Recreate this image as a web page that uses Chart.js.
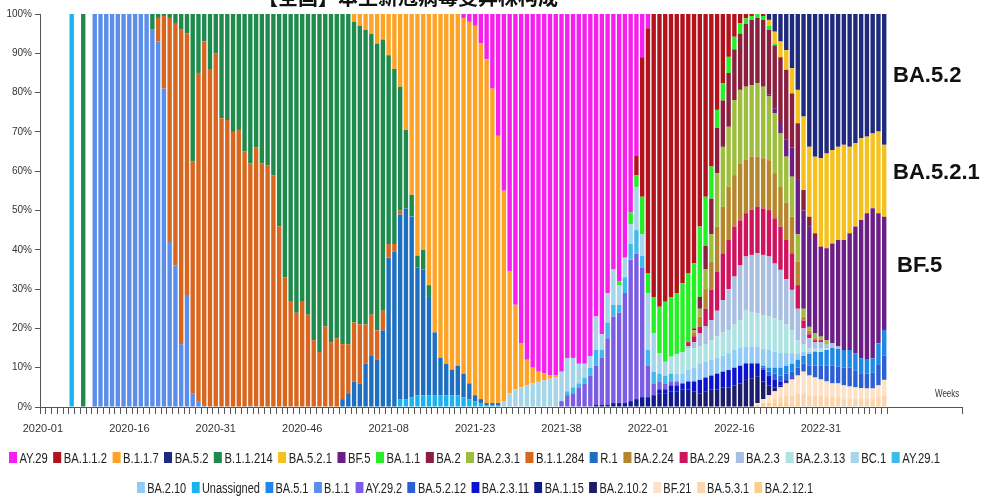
<!DOCTYPE html>
<html>
<head>
<meta charset="utf-8">
<script src="https://cdn.jsdelivr.net/npm/chart.js@4.4.1/dist/chart.umd.min.js"></script>
<style>
  html, body { margin: 0; padding: 0; background: #fff; }
  #wrap { position: relative; width: 986px; height: 501px; overflow: hidden; }
  #c { position: absolute; left: 0; top: 0; }
  #title { position: absolute; left: 258px; top: -13px; font: bold 20px "Noto Sans CJK SC", sans-serif; color: #111; white-space: nowrap; line-height: 20px; }
  .tag { position: absolute; font: bold 22px "Liberation Sans", Arial, sans-serif; color: #111; line-height: 24px; white-space: nowrap; }
  #weeks { position: absolute; left: 935px; top: 388px; font: 10px "Liberation Sans", Arial, sans-serif; color: #333;
           transform: scaleX(0.8); transform-origin: 0 0; }
  .row { position: absolute; height: 15px; display: inline-flex; align-items: center;
         font: 14px "Liberation Sans", Arial, sans-serif; color: #222; white-space: nowrap; transform-origin: 0 0; }
  .item { display: flex; align-items: center; margin-right: 7px; }
  .item:last-child { margin-right: 0; }
  .sw { width: 10px; height: 11px; margin-right: 3px; flex: none; }
</style>
</head>
<body>
<div id="wrap">
  <canvas id="c" width="986" height="501"></canvas>
  <div id="title">【全国】本土新冠病毒变异株构成</div>
  <div class="tag" style="left:893px; top:63px;">BA.5.2</div>
  <div class="tag" style="left:893px; top:160px;">BA.5.2.1</div>
  <div class="tag" style="left:897px; top:253px;">BF.5</div>
  <div id="weeks">Weeks</div>
  <div class="row" id="row1" style="top:450px;"></div>
  <div class="row" id="row2" style="top:480px;"></div>
</div>
<script>
// ISO weeks shown on the category axis (2020 has 53 weeks)
const YEAR_WEEKS = [[2020, 53], [2021, 52], [2022, 52], [2023, 3]];
const weekLabels = [];
YEAR_WEEKS.forEach(([y, n]) => { for (let w = 1; w <= n; w++) weekLabels.push(y + '-' + String(w).padStart(2, '0')); });
const LABEL_EVERY = 15;        // one printed label per 15 weeks
const N_WEEKS = 147;           // weeks with sequencing data (2020-01 .. 2022-42)

// Weekly share (%) per lineage, given as [first week index, values...] runs
const AY_29      = [[73, [1,2,3,7.5,11.5,19,31,45,65.5,74,83.7,88,90,91,91.5,92,92,91,87.5,87.5,89,89,87,77,81.5,71,65,68,62,50.5,36,11,3.6]]];
const BA_1_1_2   = [[103, [5,35.5,62.4,72,74.5,73.2,72,71,68.5,66,63.4,54.1,46.5,38.8,24.4,17.6,10.9,5.8,2.4,1.1,0.5,0,0.5]]];
const B_1_1_7    = [[54, [2,3,4,5,7.5,6.5,10.5,14,18.5,29.5,46,61.5,60,69,81,87.5,89,90.5,89.5,90.5,92,94,90.5,87.5,80,68,53.5,31,21.5,11.3,6.5,4,2.6,1.7,0.8,0.4]]];
const BA_5_2     = [[126, [1.5,4.5,7,9.2,13.8,19.3,26.1,33.8,36.3,36.7,35.5,34.6,33.8,33.3,33.8,32.9,31.6,31.2,30.4,29.9,33.3]]];
const B_1_1_214  = [[7, [100]], [19, [4,1,0.5,1,2.5,4,5,37.5,15,7,14,10,26.5,27,30,29.5,35,38,34,38,38.5,41,54,67,73,76,73,76.5,83,86,79.5,83.5,82.5,84,84,76.5,76,75,71.5,73,69,48,44.5,31.5,20,5.5,3,5,3]]];
const BA_5_2_1   = [[126, [1.5,3,4,5,6.4,8.5,18.7,17.8,19.5,22.5,24.1,23.8,23.7,24.2,22,21.2,20.8,19.5,19,20.8,18.3]]];
const BF_5       = [[126, [0.5,1.3,2.4,4.3,7.4,14,25,25.6,24.3,22.9,23.4,25.4,27.1,28,29.7,32.2,35.2,37.3,38.2,33.1,28.8]]];
const BA_1_1     = [[100, [1,0,3,3,9.5,5,9.2,11.8,15.3,15.2,15.5,17.5,17.5,16.6,17.9,12.5,8.2,4.6,4.4,4.1,3.2,2.6,1.4,1,1,1,1,0.5]]];
const BA_2       = [[113, [0.5,3,6,9,11.5,11.8,13.7,12.9,14.3,16,16.6,16.6,17,16.5,16,17,17.8,13.8,14.2,5.2,2.4,1.2]]];
const BA_2_3_1   = [[113, [0.5,2,5,7,13.6,15.2,15.3,19.1,18.7,18.5,18.2,18.7,18.2,16.2,15.2,13.6,11.7,10.2,7,2,0.9,1.2,0.9,1]]];
const B_1_1_284  = [[20, [6,18.5,57,61.5,80,66.5,59,83.5,92.5,86,90,73.5,73,70,70.5,65,61.5,66,62,61.5,59,46,33,27,24,27,23.5,17,14,20.5,16.5,17.5,14,12.5,15,15,10,10.5,7.5,5,3.5,2,1]]];
const R_1        = [[52, [2,3.5,6.5,6,11,13,12,19.5,38,39.5,47,48.5,46,32.5,32,25,16,9.5,8,6.5,7.5,6,4,1.5,1,0.5,0.5,0.5]]];
const BA_2_24    = [[113, [1,2.6,5,7.2,11.4,11.9,13.5,13.1,14.5,13.7,13.5,12.7,12.8,12.7,11.5,10.1,9.5,9.3,6,1,1,0.5]]];
const BA_2_29    = [[112, [1,1.5,1.7,4.5,7.7,10,11.9,12.5,12.7,11.5,11,11.5,11.9,11.8,11.8,11.5,11,10,9.3,6,2,1,0.5,0.5]]];
const BA_2_3     = [[112, [0.5,1.5,3.3,4.5,5.1,6.5,8.2,10.4,12.2,13.9,13.6,14.5,15.3,15.3,15.3,14,12.8,11.5,10.2,8,4,2.5,1.7,1.5,1,1.2,0.6]]];
const BA_2_3_13  = [[109, [4.3,5,5.5,5.5,5,4.3,4.5,5,5.5,6,5.9,6.5,7.1,9.3,8.8,8.4,8.6,8.5,8.5,8.4,7.3,5.9,3.5,2,1,0.5,1,0.5]]];
const BC_1       = [[80, [1.5,3.5,4.5,5,5.5,6,6.4,6.8,7.2,7.6,7.5,8.5,7.5,5,3.5,3,8.5,4,7.5,9,5,5,5,11,5.5,14.5,9.8,5.2,3.5]]];
const AY_29_1    = [[91, [1,1.5,1,1.5,2,4,2,4,3,2,4,4,6,3,4,3,2,2,2]]];
const BA_2_10    = [[110, [2,2.5,3,3.5,4.2,4,4,4,4,4.3,4.5,4.5,4.3,4.3,4.3,4.3,4.5,4,3.7,3.2,2.7,1.5,1,0.5,0.3]]];
const UNASSIGNED = [[5, [100]], [62, [2,2,2.5,3,3,3,3,3,3,3,3,2.5,2,1.5,1,0.5,0.5,0.5]]];
const BA_5_1     = [[125, [0.5,1,1.5,2,2,2,2,2,3,3.5,3.5,4,4.5,4.5,4.5,4.5,4.5,3.8,3.5,3.7,5.5,6.5]]];
const B_1_1      = [[9, [100,100,100,100,100,100,100,100,100,100,96,93,81,42,36,16,28.5,3.5,1.5,0.5,0,0,0,0,0,0,0,0.5]]];
const AY_29_2    = [[90, [1.5,3,3.5,5,6,8,10,12,17,22,23,28,36,37,33,8,3,2,1.5,1,1]]];
const BA_5_2_12  = [[125, [0.5,1,1.5,1.5,1.7,1.5,2,2,2.5,3,3.5,4,4.5,4.3,4.5,4.8,4.2,3.8,3.8,4,5.2,6.2]]];
const BA_2_3_11  = [[107, [1,1,1.5,1.5,1.5,2,2.5,3.4,3.5,3.5,4,4,4.4,4.5,4.5,4.2,3.8,3.4,3,2.5,2,1,0.5,0.3]]];
const BA_1_15    = [[96, [0.5,0.5,0.5,1,1,1,1.5,2,2.5,2.5,3,3.5,3.5,4,4,4.5,4.5]]];
const BA_2_10_2  = [[113, [4,3.5,4,4.5,4.5,5,5,5.5,6,6.9,7.3,6.7,4.5,2.5,1,0.5,0.3,0.2]]];
const BF_21      = [[124, [0.5,1,2,2,2.5,3,4,4.5,5.5,5,4.5,4,4,3.5,3.5,3.5,3.2,3,2.8,2.7,2.7,3,3.9]]];
const BA_5_3_1   = [[127, [1,1.5,2,2.5,3,3.5,3,3,3,2.5,2.5,2.5,2,2,2,2,2,2,2.5,3]]];
const BA_2_12_1  = [[124, [0.5,1,1,1,1,1,0.5,0.5]]];

// lineage name, data runs, colour — in legend order
const LINEAGES = [
  ['AY.29', AY_29, '#f61ff0'], ['BA.1.1.2', BA_1_1_2, '#b3121c'], ['B.1.1.7', B_1_1_7, '#ffa327'],
  ['BA.5.2', BA_5_2, '#1f2a7c'], ['B.1.1.214', B_1_1_214, '#1e8b4d'], ['BA.5.2.1', BA_5_2_1, '#f4c11f'],
  ['BF.5', BF_5, '#6a1e86'], ['BA.1.1', BA_1_1, '#25ef25'], ['BA.2', BA_2, '#8b1f40'],
  ['BA.2.3.1', BA_2_3_1, '#9dbe3c'], ['B.1.1.284', B_1_1_284, '#d8661f'], ['R.1', R_1, '#1f6fc1'],
  ['BA.2.24', BA_2_24, '#b5862c'], ['BA.2.29', BA_2_29, '#d0135f'], ['BA.2.3', BA_2_3, '#a9bfe2'],
  ['BA.2.3.13', BA_2_3_13, '#afe2e2'], ['BC.1', BC_1, '#a5d5e8'], ['AY.29.1', AY_29_1, '#40b9ec'],
  ['BA.2.10', BA_2_10, '#90caf5'], ['Unassigned', UNASSIGNED, '#19b3f0'], ['BA.5.1', BA_5_1, '#1f88e6'],
  ['B.1.1', B_1_1, '#5b8dea'], ['AY.29.2', AY_29_2, '#7b5ce4'], ['BA.5.2.12', BA_5_2_12, '#2b5fd6'],
  ['BA.2.3.11', BA_2_3_11, '#0b12cf'], ['BA.1.15', BA_1_15, '#0f1b8d'], ['BA.2.10.2', BA_2_10_2, '#1c1c6c'],
  ['BF.21', BF_21, '#fde2c5'], ['BA.5.3.1', BA_5_3_1, '#fbd5ae'], ['BA.2.12.1', BA_2_12_1, '#f9cf8f']
];
const LEGEND_ROW_BREAK = 18;

// stacking order, bottom to top
const STACK_ORDER = ['BA.2.12.1','BA.5.3.1','BF.21','BA.2.10.2','BA.1.15','BA.2.3.11','BA.5.2.12','BA.5.1',
  'B.1.1','Unassigned','R.1','AY.29.2','AY.29.1','BA.2.10','BC.1','BA.2.3.13','BA.2.3','BA.2.29','BA.2.24',
  'BA.2.3.1','BF.5','B.1.1.284','B.1.1.214','BA.2','BA.1.1','BA.1.1.2','B.1.1.7','AY.29','BA.5.2.1','BA.5.2'];

function expand(runs) {
  const out = new Array(N_WEEKS).fill(0);
  runs.forEach(([start, vals]) => vals.forEach((v, k) => { out[start + k] = v; }));
  return out;
}

const byName = Object.fromEntries(LINEAGES.map(l => [l[0], l]));
const datasets = STACK_ORDER.map(name => {
  const [label, runs, color] = byName[name];
  return { label, data: expand(runs), backgroundColor: color, borderWidth: 0,
           stack: 'share', barPercentage: 0.76, categoryPercentage: 1.0 };
});

const FONT = "'Liberation Sans', Arial, sans-serif";
const AXIS = '#555';

new Chart(document.getElementById('c'), {
  type: 'bar',
  data: { labels: weekLabels, datasets },
  options: {
    responsive: false,
    animation: false,
    layout: { padding: { top: 14, right: 24, bottom: 64, left: 0 } },
    plugins: { legend: { display: false }, tooltip: { enabled: false } },
    scales: {
      x: {
        stacked: true,
        offset: true,
        border: { display: true, color: AXIS, width: 1 },
        grid: {
          offset: true, drawOnChartArea: false, drawTicks: true, tickLength: 7,
          tickColor: ctx => (ctx.type !== 'tick' || ctx.index <= N_WEEKS) ? AXIS : 'rgba(0,0,0,0)'
        },
        ticks: {
          autoSkip: false, maxRotation: 0, minRotation: 0, padding: 8, color: '#333',
          font: { family: FONT, size: 11 },
          callback: (v, i) => (i % LABEL_EVERY === 0 && i < N_WEEKS - 10) ? weekLabels[i] : ''
        },
        afterFit: s => { s.height = 30; }
      },
      y: {
        stacked: true, min: 0, max: 100,
        border: { display: true, color: AXIS, width: 1 },
        grid: { drawOnChartArea: false, drawTicks: true, tickLength: 5, tickColor: AXIS },
        ticks: { stepSize: 10, padding: 3, color: '#333', font: { family: FONT, size: 10 },
                 callback: v => v + '%' },
        afterFit: s => { s.width = 40; }
      }
    }
  }
});

// legend, two rows squeezed horizontally to the printed span
function legendItem([label, , color]) {
  const el = document.createElement('div');
  el.className = 'item';
  const sw = document.createElement('span');
  sw.className = 'sw';
  sw.style.background = color;
  el.appendChild(sw);
  el.appendChild(document.createTextNode(label));
  return el;
}
LINEAGES.forEach((l, i) => {
  document.getElementById(i < LEGEND_ROW_BREAK ? 'row1' : 'row2').appendChild(legendItem(l));
});
function fitRow(id, left, right) {
  const row = document.getElementById(id);
  const w = row.getBoundingClientRect().width;
  row.style.left = left + 'px';
  row.style.transform = 'scaleX(' + ((right - left) / w) + ')';
}
fitRow('row1', 9, 940);
fitRow('row2', 137, 813);
</script>
</body>
</html>
